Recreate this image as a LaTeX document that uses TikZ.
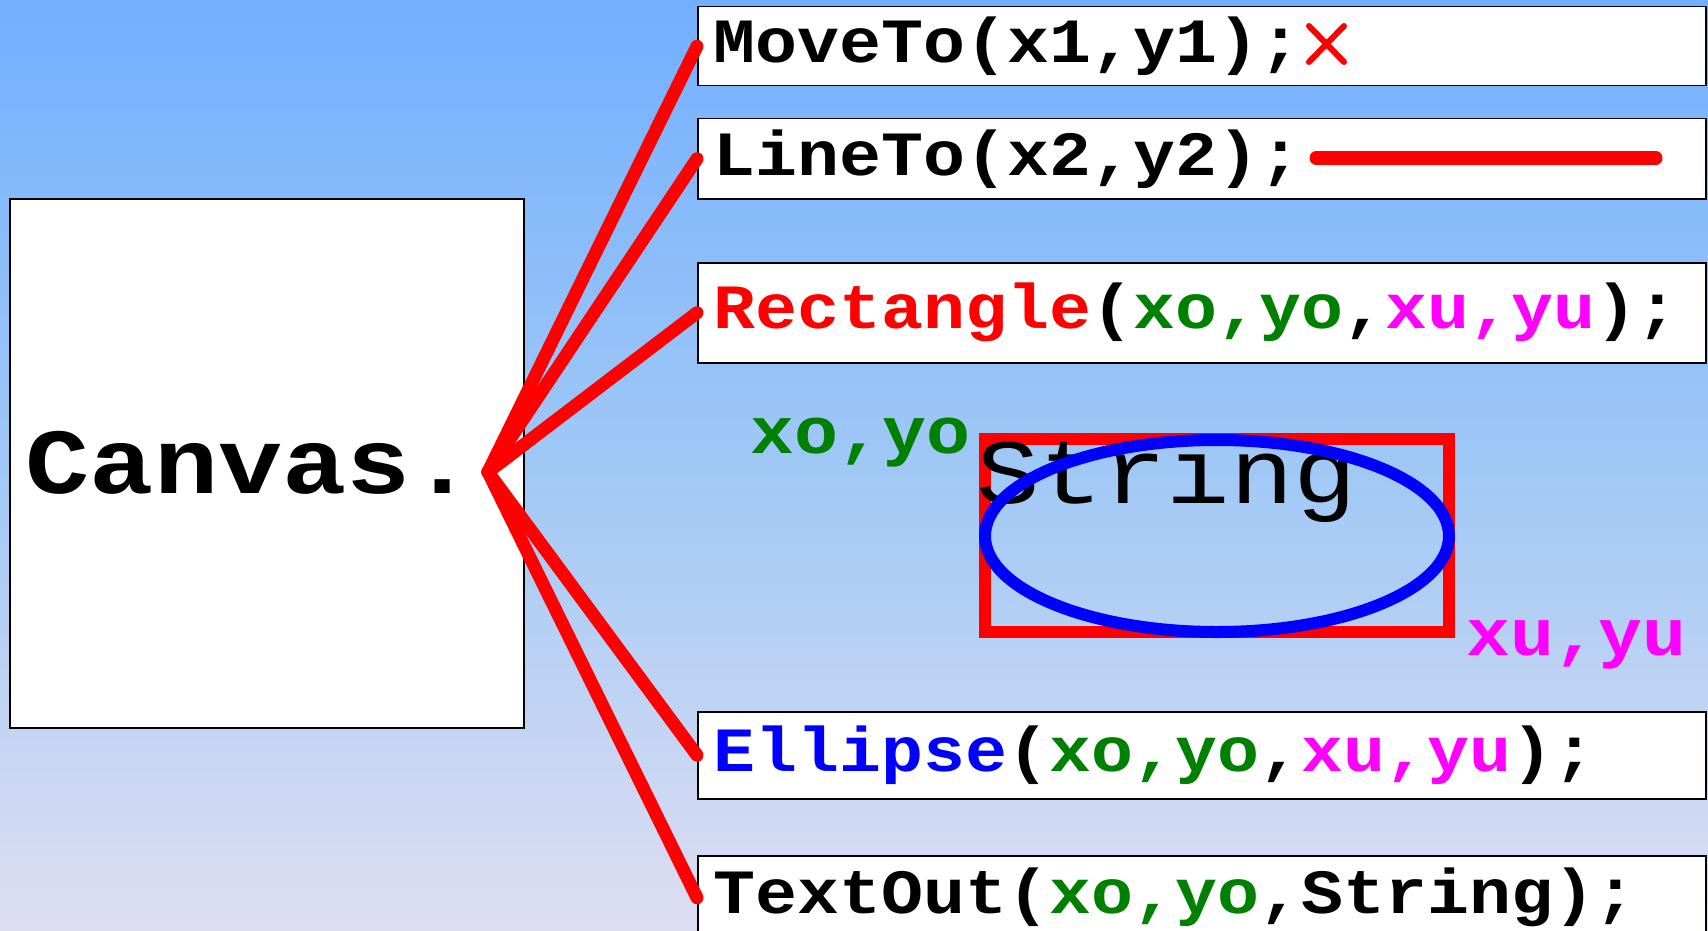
\documentclass[tikz,border=0pt]{standalone}
\usepackage{fontspec}
\newfontfamily\codefont{Liberation Mono}[FakeStretch=1.11]
\newfontfamily\canvasfont{Liberation Mono}[FakeStretch=1.15]

\definecolor{bgtop}{RGB}{115,175,255}
\definecolor{bgmid}{RGB}{160,200,245}
\definecolor{bgbot}{RGB}{222,222,242}
\definecolor{xogreen}{RGB}{0,128,0}
\definecolor{xupink}{RGB}{255,0,255}

\newcommand{\boxfont}{\codefont\bfseries\fontsize{63pt}{70pt}\selectfont}
\newcommand{\labelfont}{\codefont\bfseries\fontsize{66pt}{72pt}\selectfont}
\newcommand{\bigfont}{\canvasfont\bfseries\fontsize{93pt}{100pt}\selectfont}
\newcommand{\strfont}{\canvasfont\fontsize{92pt}{100pt}\selectfont}
\newcommand{\xo}[1]{\textcolor{xogreen}{#1}}
\newcommand{\xu}[1]{\textcolor{xupink}{#1}}

\begin{document}
\begin{tikzpicture}[x=1pt,y=-1pt,
  callbox/.style={draw,fill=white,line width=1.5pt,anchor=north west,
                  inner xsep=16pt,inner ysep=0pt,text width=976pt,align=left,font=\boxfont},
  canvasbox/.style={draw,fill=white,line width=1.5pt,anchor=north west,
                  inner xsep=16pt,minimum height=529pt,text width=482pt,align=left,font=\bigfont},
  wire/.style={red,line width=13pt,line cap=round}]
\useasboundingbox (0,0) rectangle (1708,931);
\clip (0,0) rectangle (1708,931);

% background
\fill[top color=bgtop,bottom color=bgmid] (0,0) rectangle (1708,466);
\fill[top color=bgmid,bottom color=bgbot] (0,465) rectangle (1708,931);

\node[canvasbox] (canvas) at (9,198) {Canvas.};
\coordinate (hub) at (488,472);

\node[callbox,minimum height=79pt] (movebox) at (697,6) {MoveTo(x1,y1);};
\node[callbox,minimum height=80pt] (linebox) at (697,118) {LineTo(x2,y2);};
\node[callbox,minimum height=100pt] (rectbox) at (697,262)
  {\textcolor{red}{Rectangle}(\xo{xo,yo},\xu{xu,yu});};
\node[callbox,minimum height=87pt] (ellbox) at (697,711)
  {\textcolor{blue}{Ellipse}(\xo{xo,yo},\xu{xu,yu});};
\node[callbox,minimum height=84pt] (textbox) at (697,855)
  {TextOut(\xo{xo,yo},String);};

% what each call draws
\draw[red,line width=6pt,line cap=round] (1309,26) -- (1344,62) (1309,62) -- (1344,26);
\draw[red,line width=13pt,line cap=round] (1316,158) -- (1656,158);

\draw[red,line width=12pt] (985,439) rectangle (1449,632);
\node[anchor=base west,inner sep=0pt,font=\strfont] (strlabel) at (976,503) {String};
\draw[blue,line width=12pt] (1217,536) ellipse [x radius=232, y radius=96];

\node[anchor=base west,inner sep=0pt,font=\labelfont,text=xogreen] (xolabel) at (750,453) {xo,yo};
\node[anchor=base west,inner sep=0pt,font=\labelfont,text=xupink] (xulabel) at (1466,655) {xu,yu};

\path[wire] (hub)
  edge (movebox.west)
  edge (linebox.west)
  edge (rectbox.west)
  edge (ellbox.west)
  edge (textbox.west);
\end{tikzpicture}
\end{document}
